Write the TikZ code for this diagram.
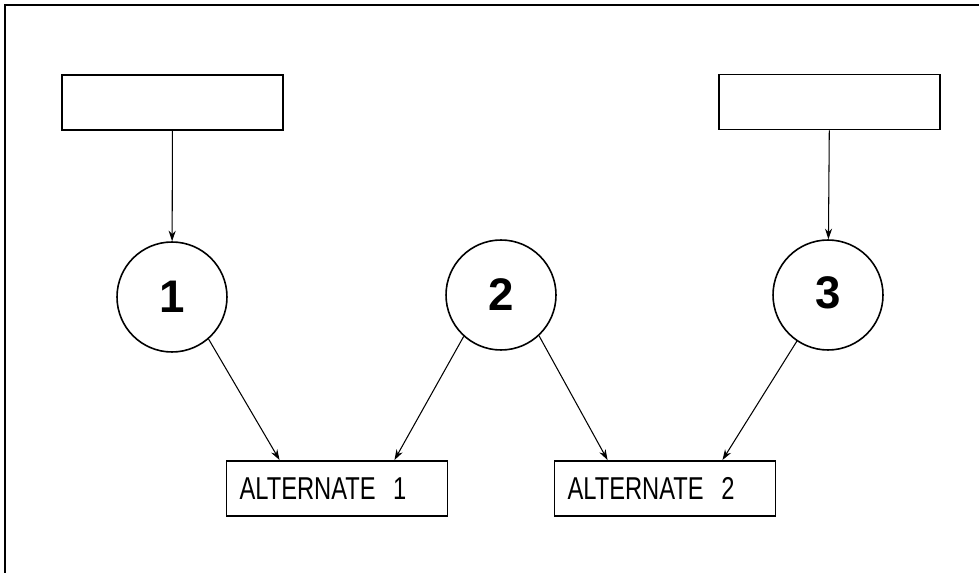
\documentclass[tikz,border=0pt]{standalone}
\usepackage{fontspec}
\setmainfont{Liberation Sans}
\newfontfamily\narrowsf{Liberation Sans}[FakeStretch=0.75]
\usetikzlibrary{arrows.meta}

\tikzset{
  card/.style={draw,line width=1.1pt,minimum width=4.42cm,minimum height=1.1cm},
  alt/.style={card,text width=3.9cm,align=left,inner xsep=0.26cm,
    font=\narrowsf\fontsize{18}{20}\selectfont},
  site/.style={circle,draw,line width=0.9pt,minimum size=2.2cm,inner sep=0pt,
    font=\bfseries\fontsize{26}{28}\selectfont},
  link/.style={line width=0.6pt,-{Stealth[length=6pt,width=4pt]}}
}

\begin{document}
\begin{tikzpicture}[x=0.02cm,y=-0.02cm]
    \useasboundingbox (0,0) rectangle (979,573);
    % frame, open at the right and at the bottom
    \draw[line width=1.1pt] (979,5) -- (5,5) -- (5,573);

    % empty boxes on top
    \node[card] (src1) at (172.5,102.5) {};
    \node[card] (src3) at (829.5,102) {};

    % numbered circles
    \node[site] (c1) at (172,297) {1};
    \node[site] (c2) at (501,295) {\raisebox{-0.12cm}{2}};
    \node[site] (c3) at (828,295) {\raisebox{0.1cm}{3}};

    % the two alternates
    \node[alt] (alt1) at (337,488.5) {ALTERNATE\hspace{0.14cm} 1};
    \node[alt] (alt2) at (665,488.5) {ALTERNATE\hspace{0.14cm} 2};

    \draw[link] (src1) -- (c1);
    \draw[link] (src3) -- (c3);

    \draw[link] (c1.311) -- ([xshift=1.08cm]alt1.north west);
    \draw[link] (c2.228) -- ([xshift=-1.08cm]alt1.north east);
    \draw[link] (c2.313) -- ([xshift=1.08cm]alt2.north west);
    \draw[link] (c3.236) -- ([xshift=-1.08cm]alt2.north east);
\end{tikzpicture}
\end{document}
